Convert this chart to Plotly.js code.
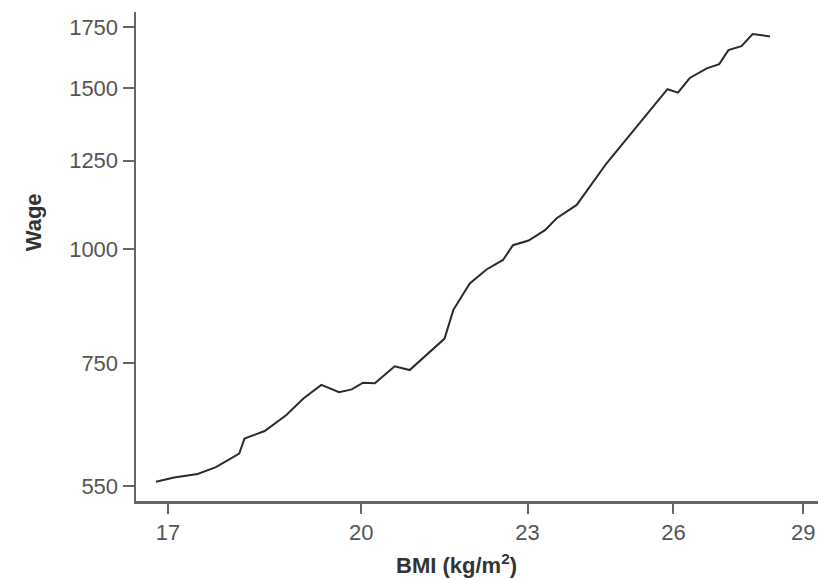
<!DOCTYPE html>
<html>
<head>
<meta charset="utf-8">
<script src="https://cdn.plot.ly/plotly-3.0.1.min.js"></script>
<style>
  html, body { margin: 0; padding: 0; background: #fff; }
  #chart { width: 828px; height: 580px; }
</style>
</head>
<body>
<div id="chart"></div>
<script>
// BMI (kg/m²) values along the curve
const bmi = [16.83, 17.09, 17.43, 17.70, 18.05, 18.13, 18.44, 18.78, 19.05, 19.34,
             19.63, 19.84, 20.03, 20.23, 20.57, 20.83, 21.45, 21.61, 21.91, 22.22,
             22.53, 22.72, 23.02, 23.34, 23.57, 23.83, 23.97, 24.58, 25.20, 25.53,
             25.87, 26.10, 26.36, 26.74, 27.02, 27.23, 27.53, 27.79, 28.20];
// Wage values
const wage = [556, 562, 567, 577, 597, 620, 632, 658, 686, 710,
              697, 702, 714, 713, 744, 737, 798, 858, 917, 950,
              973, 1010, 1022, 1049, 1081, 1104, 1118, 1242, 1362, 1427,
              1497, 1484, 1540, 1578, 1595, 1652, 1669, 1721, 1710];
// Tick labels
const xTicks = [17, 20, 23, 26, 29];
const yTicks = [550, 750, 1000, 1250, 1500, 1750];

const axisColor = '#666666';
const tickFont = {family: 'Liberation Sans, Arial, sans-serif', size: 22, color: '#555555'};

const trace = {
  x: bmi, y: wage, type: 'scatter', mode: 'lines',
  line: {color: '#2b2b2b', width: 2},
  hoverinfo: 'skip'
};

const layout = {
  width: 828, height: 580,
  margin: {l: 136, r: 10, t: 12, b: 79},
  paper_bgcolor: '#ffffff', plot_bgcolor: '#ffffff',
  showlegend: false,
  xaxis: {
    type: 'log',
    range: [Math.log10(16.55), Math.log10(29.36)],
    tickmode: 'array', tickvals: xTicks, ticktext: xTicks.map(String),
    showgrid: false, zeroline: false,
    showline: true, linecolor: axisColor, linewidth: 2.5,
    ticks: 'outside', ticklen: 10, tickwidth: 2, tickcolor: axisColor,
    tickfont: tickFont
  },
  yaxis: {
    type: 'log',
    range: [Math.log10(529.7), Math.log10(1819)],
    tickmode: 'array', tickvals: yTicks, ticktext: yTicks.map(String),
    showgrid: false, zeroline: false,
    showline: true, linecolor: axisColor, linewidth: 2.5,
    ticks: 'outside', ticklen: 11, tickwidth: 2, tickcolor: axisColor,
    tickfont: tickFont
  },
  annotations: [
    {text: '<b>Wage</b>', xref: 'paper', yref: 'paper', x: -0.151, y: 0.57,
     xanchor: 'center', yanchor: 'middle', textangle: -90, showarrow: false,
     font: {family: 'Liberation Sans, Arial, sans-serif', size: 22, color: '#333333'}},
    {text: '<b>BMI (kg/m<sup>2</sup>)</b>', xref: 'paper', yref: 'paper', x: 0.47, y: -0.128,
     xanchor: 'center', yanchor: 'middle', showarrow: false,
     font: {family: 'Liberation Sans, Arial, sans-serif', size: 22, color: '#333333'}}
  ]
};

Plotly.newPlot('chart', [trace], layout, {staticPlot: true, displayModeBar: false});
</script>
</body>
</html>
